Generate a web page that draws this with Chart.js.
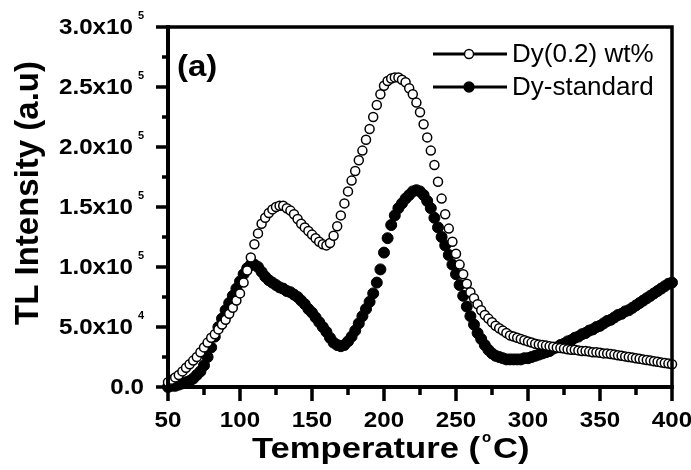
<!DOCTYPE html>
<html>
<head>
<meta charset="utf-8">
<script src="https://cdn.jsdelivr.net/npm/chart.js@4"></script>
<style>
  html, body { margin: 0; padding: 0; background: #fff; }
  canvas { display: block; }
</style>
</head>
<body>
<canvas id="tlChart" width="691" height="470"></canvas>
<script>
// temperature (oC), 2.5 degree steps
const temps = [
  50, 52.5, 55, 57.5, 60, 62.5, 65, 67.5, 70, 72.5, 75, 77.5, 80, 82.5, 85, 87.5, 90, 92.5, 95, 97.5,
  100, 102.5, 105, 107.5, 110, 112.5, 115, 117.5, 120, 122.5, 125, 127.5, 130, 132.5, 135, 137.5, 140, 142.5, 145, 147.5,
  150, 152.5, 155, 157.5, 160, 162.5, 165, 167.5, 170, 172.5, 175, 177.5, 180, 182.5, 185, 187.5, 190, 192.5, 195, 197.5,
  200, 202.5, 205, 207.5, 210, 212.5, 215, 217.5, 220, 222.5, 225, 227.5, 230, 232.5, 235, 237.5, 240, 242.5, 245, 247.5,
  250, 252.5, 255, 257.5, 260, 262.5, 265, 267.5, 270, 272.5, 275, 277.5, 280, 282.5, 285, 287.5, 290, 292.5, 295, 297.5,
  300, 302.5, 305, 307.5, 310, 312.5, 315, 317.5, 320, 322.5, 325, 327.5, 330, 332.5, 335, 337.5, 340, 342.5, 345, 347.5,
  350, 352.5, 355, 357.5, 360, 362.5, 365, 367.5, 370, 372.5, 375, 377.5, 380, 382.5, 385, 387.5, 390, 392.5, 395, 397.5, 400
];

// TL intensity, in units of 1e3
const dy02Wt = [
  4, 6, 8, 10, 13, 16, 19, 22, 25, 29, 33, 37, 41, 44, 48, 52, 56, 61, 66, 72,
  78, 87, 97, 108, 119, 128, 136, 141, 145, 148, 150, 151, 151, 149, 147, 144, 140, 136, 133, 130,
  127, 124, 121, 119, 118, 120, 126, 134, 143, 153, 163, 172, 180, 189, 197, 206, 215, 225, 235, 244,
  251, 255, 257, 258, 258, 256, 254, 249, 244, 237, 229, 219, 208, 197, 185, 171, 157, 144, 132, 121,
  111, 102, 94, 86, 79, 74, 69, 64, 60, 57, 54, 51, 49, 47, 45, 43, 42, 41, 40, 39,
  38, 37, 36, 35.5, 35, 34.5, 34, 33.5, 33, 32.5, 32, 31.5, 31, 31, 30.5, 30, 30, 29.5, 29, 29,
  28.5, 28, 28, 27.5, 27, 26.5, 26, 25.5, 25, 24.5, 24, 23.5, 23, 22.5, 22, 21.5, 21, 20.5, 20, 19.5, 19
];

const dyStandard = [
  0, 1, 1, 2, 3, 4, 5, 7, 10, 13, 18, 25, 33, 42, 50, 57, 64, 70, 76, 82,
  88, 94, 99, 102, 102, 100, 96, 92, 89, 87, 85, 83, 82, 80, 79, 77, 75, 72, 69, 65,
  62, 58, 54, 50, 46, 41, 37, 35, 34, 35, 38, 42, 47, 53, 59, 65, 71, 78, 87, 98,
  112, 124, 135, 143, 149, 153, 157, 160, 163, 164, 163, 160, 155, 149, 141, 133, 125, 118, 110, 102,
  94, 85, 76, 67, 59, 52, 45, 40, 35, 31, 28, 26, 25, 24, 23, 23, 23, 23, 23, 24,
  24, 25, 26, 27, 28, 29, 30, 32, 33, 35, 36, 38, 39, 41, 42, 44, 45, 47, 48, 50,
  51, 53, 55, 56, 58, 60, 61, 63, 64, 66, 68, 70, 72, 74, 76, 78, 80, 82, 84, 86, 87
];

const seriesNames = ['Dy(0.2) wt%', 'Dy-standard'];

const xMajorTicks = [50, 100, 150, 200, 250, 300, 350, 400];
const xMinorTicks = [75, 125, 175, 225, 275, 325, 375];
const yMajorTicks = [0, 50000, 100000, 150000, 200000, 250000, 300000];
const yMinorTicks = [25000, 75000, 125000, 175000, 225000, 275000];
const yTickText = ['0.0', '5.0x10', '1.0x10', '1.5x10', '2.0x10', '2.5x10', '3.0x10'];
const yTickPower = ['', '4', '5', '5', '5', '5', '5'];

const FONT = '"Liberation Sans", Arial, Helvetica, sans-serif';
const SX = 1.1; // the source lettering is a bit wide

function toPoints(values) {
  return temps.map((t, i) => ({ x: t, y: values[i] * 1000 }));
}

function wideText(ctx, s, x, y, font, align, sx) {
  ctx.save();
  ctx.font = font;
  const w = ctx.measureText(s).width * sx;
  let left = x;
  if (align === 'center') left = x - w / 2;
  if (align === 'right') left = x - w;
  ctx.translate(left, y);
  ctx.scale(sx, 1);
  ctx.textAlign = 'left';
  ctx.fillText(s, 0, 0);
  ctx.restore();
  return w;
}

function stretchFor(ctx, s, font, target) {
  ctx.save();
  ctx.font = font;
  const w = ctx.measureText(s).width;
  ctx.restore();
  return target / w;
}

function marker(ctx, x, y, r, filled) {
  ctx.beginPath();
  ctx.arc(x, y, r, 0, Math.PI * 2);
  ctx.fillStyle = filled ? '#000' : '#fff';
  ctx.fill();
  ctx.lineWidth = 1.4;
  ctx.strokeStyle = '#000';
  ctx.stroke();
}

const decorations = {
  id: 'decorations',
  afterDatasetsDraw(chart) {
    const { ctx, chartArea: a, scales: { x, y } } = chart;
    ctx.save();
    ctx.fillStyle = '#000';
    ctx.strokeStyle = '#000';
    ctx.lineCap = 'butt';

    // frame
    ctx.lineWidth = 3.5;
    ctx.beginPath();
    ctx.moveTo(a.left, a.top);
    ctx.lineTo(a.right, a.top);
    ctx.lineTo(a.right, a.bottom);
    ctx.stroke();
    ctx.lineWidth = 4;
    ctx.beginPath();
    ctx.moveTo(a.left, a.top - 2);
    ctx.lineTo(a.left, a.bottom);
    ctx.lineTo(a.right + 2, a.bottom);
    ctx.stroke();

    // ticks
    ctx.lineWidth = 3.5;
    ctx.beginPath();
    xMajorTicks.forEach(v => {
      const px = x.getPixelForValue(v);
      ctx.moveTo(px, a.bottom); ctx.lineTo(px, a.bottom + 14);
    });
    xMinorTicks.forEach(v => {
      const px = x.getPixelForValue(v);
      ctx.moveTo(px, a.bottom); ctx.lineTo(px, a.bottom + 8);
    });
    yMajorTicks.forEach(v => {
      const py = y.getPixelForValue(v);
      ctx.moveTo(a.left, py); ctx.lineTo(a.left - 12, py);
    });
    yMinorTicks.forEach(v => {
      const py = y.getPixelForValue(v);
      ctx.moveTo(a.left, py); ctx.lineTo(a.left - 6, py);
    });
    ctx.stroke();

    // tick labels
    ctx.textBaseline = 'middle';
    xMajorTicks.forEach(v => {
      wideText(ctx, String(v), x.getPixelForValue(v), 421, 'bold 22px ' + FONT, 'center', SX);
    });
    yMajorTicks.forEach((v, i) => {
      const py = y.getPixelForValue(v) + 1;
      if (yTickPower[i]) {
        wideText(ctx, yTickPower[i], 144, py - 12, 'bold 10px ' + FONT, 'right', SX);
        wideText(ctx, yTickText[i], 133, py, 'bold 22px ' + FONT, 'right', SX);
      } else {
        wideText(ctx, yTickText[i], 144, py, 'bold 22px ' + FONT, 'right', SX);
      }
    });

    // x title: "Temperature (" + raised o + "C)"
    ctx.textBaseline = 'alphabetic';
    const titleFont = 'bold 30px ' + FONT;
    const tsx = stretchFor(ctx, 'Temperature (', titleFont, 228);
    wideText(ctx, 'Temperature (', 252, 458, titleFont, 'left', tsx);
    wideText(ctx, 'o', 482, 442, 'bold 15px ' + FONT, 'left', 1);
    wideText(ctx, 'C)', 493, 458, titleFont, 'left', tsx);

    // y title
    ctx.save();
    ctx.translate(38, 193);
    ctx.rotate(-Math.PI / 2);
    ctx.font = 'bold 33px ' + FONT;
    ctx.textAlign = 'center';
    ctx.fillText('TL Intensity (a.u)', 0, 0);
    ctx.restore();

    // panel tag
    wideText(ctx, '(a)', 177, 76, 'bold 30px ' + FONT, 'left', SX);

    // legend
    const rows = [54, 87];
    rows.forEach((ry, i) => {
      ctx.lineWidth = 3.2;
      ctx.beginPath();
      ctx.moveTo(433, ry); ctx.lineTo(507, ry);
      ctx.stroke();
      marker(ctx, 469, ry, i === 0 ? 4.5 : 5, i === 1);
      ctx.fillStyle = '#000';
      ctx.textBaseline = 'middle';
      ctx.font = '26px ' + FONT;
      ctx.textAlign = 'left';
      ctx.fillText(seriesNames[i], 512, ry + 1);
    });

    ctx.restore();
  }
};

new Chart(document.getElementById('tlChart'), {
  type: 'scatter',
  data: {
    datasets: [
      {
        label: seriesNames[0],
        data: toPoints(dy02Wt),
        showLine: false,
        pointStyle: 'circle',
        pointRadius: 4.5,
        pointBorderWidth: 1.5,
        pointBackgroundColor: '#fff',
        pointBorderColor: '#000',
        clip: false,
      },
      {
        label: seriesNames[1],
        data: toPoints(dyStandard),
        showLine: false,
        pointStyle: 'circle',
        pointRadius: 5.5,
        pointBorderWidth: 1,
        pointBackgroundColor: '#000',
        pointBorderColor: '#000',
        clip: false,
      },
    ],
  },
  options: {
    responsive: false,
    animation: false,
    devicePixelRatio: 1,
    layout: { padding: { top: 27, right: 19, left: 0, bottom: 0 } },
    plugins: { legend: { display: false }, tooltip: { enabled: false } },
    scales: {
      x: {
        type: 'linear',
        min: 50,
        max: 400,
        grid: { display: false },
        border: { display: false },
        ticks: { display: false },
        afterFit(scale) { scale.height = 83; },
      },
      y: {
        min: 0,
        max: 300000,
        grid: { display: false },
        border: { display: false },
        ticks: { display: false },
        afterFit(scale) { scale.width = 168; },
      },
    },
  },
  plugins: [decorations],
});
</script>
</body>
</html>
